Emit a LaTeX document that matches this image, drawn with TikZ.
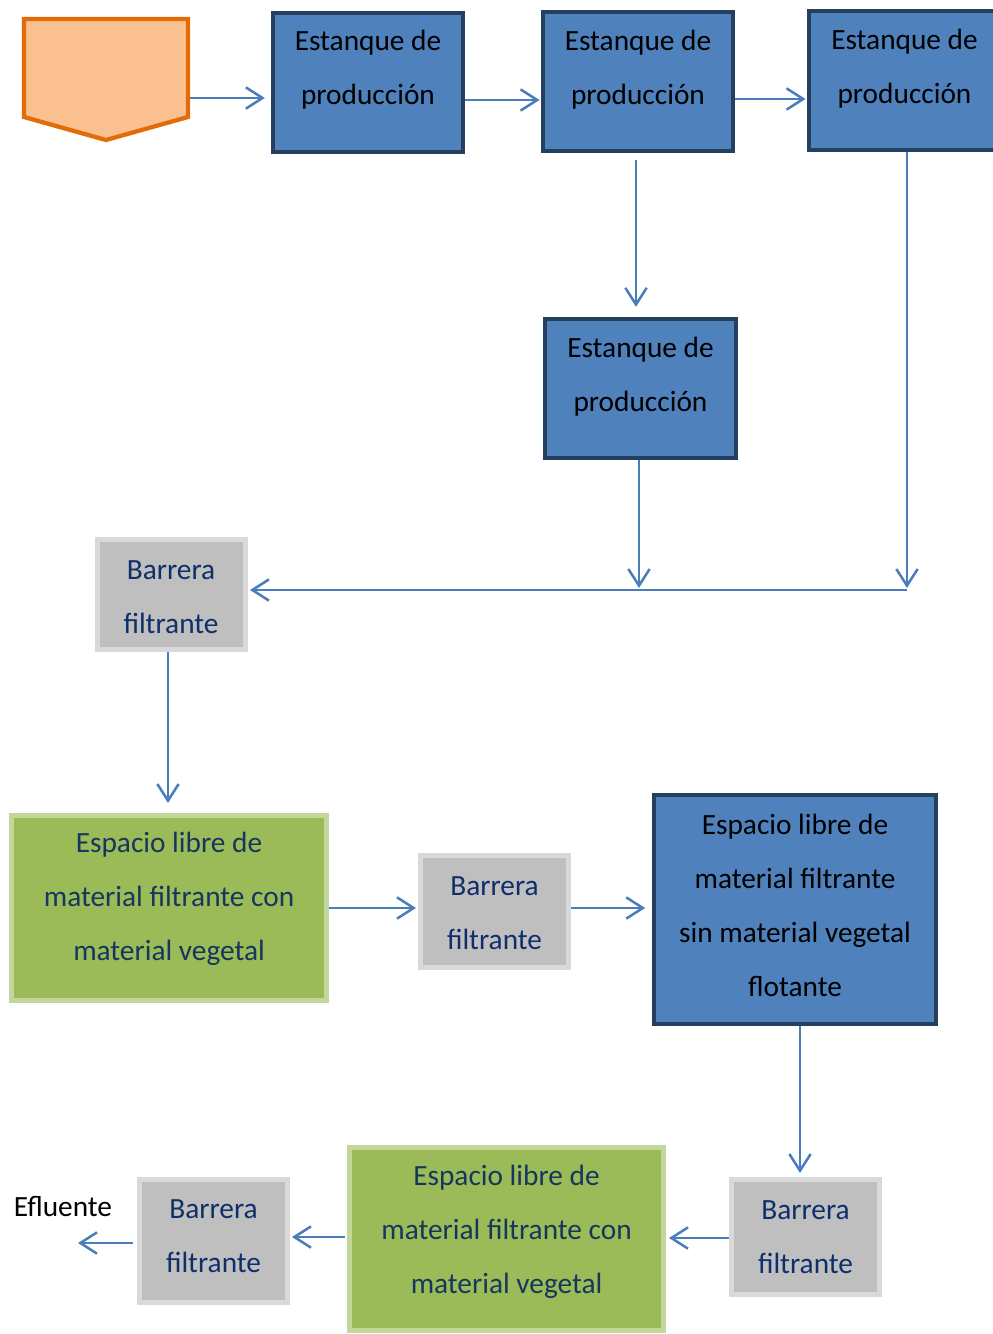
\documentclass[tikz,border=0pt]{standalone}
\usepackage{fontspec}
\setmainfont{Carlito}
\usetikzlibrary{arrows.meta}
\definecolor{pondfill}{HTML}{4F81BD}
\definecolor{pondedge}{HTML}{243F60}
\definecolor{barfill}{HTML}{BFBFBF}
\definecolor{baredge}{HTML}{D9D9D9}
\definecolor{plantfill}{HTML}{9BBB59}
\definecolor{plantedge}{HTML}{C3D69B}
\definecolor{srcfill}{HTML}{FAC090}
\definecolor{srcedge}{HTML}{E36C09}
\definecolor{flow}{HTML}{4A7EBB}
\definecolor{bartext}{HTML}{0F2F6B}
\definecolor{planttext}{HTML}{17365D}
\begin{document}
\begin{tikzpicture}[x=0.75pt,y=-0.75pt,
  pond/.style={draw=pondedge,fill=pondfill,line width=3.2pt,outer sep=1.6pt,inner sep=0pt},
  barrier/.style={draw=baredge,fill=barfill,line width=3.75pt,outer sep=1.875pt,inner sep=0pt},
  plant/.style={draw=plantedge,fill=plantfill,line width=3.75pt,outer sep=1.875pt,inner sep=0pt},
  txt/.style={align=center,inner sep=0pt,font=\fontsize{22}{40.5}\selectfont},
  arr/.style={draw=flow,line width=1.9pt,-{Straight Barb[length=12.5pt,width=16pt,line width=1.9pt]}},
  flowline/.style={draw=flow,line width=1.9pt}]
\useasboundingbox (0,0) rectangle (992,1334);

% source (incoming water)
\path[fill=srcfill,draw=srcedge,line width=3.2pt,line join=miter]
  (24,19) -- (188,19) -- (188,117) -- (106,140) -- (24,117) -- cycle;
\coordinate (src) at (190,98);

% production ponds
\node[pond,minimum width=190*0.75pt,minimum height=139*0.75pt] (b1) at (368,82.5) {};
\node[pond,minimum width=190*0.75pt,minimum height=139*0.75pt] (b2) at (638,81.5) {};
\node[pond,minimum width=191*0.75pt,minimum height=139*0.75pt] (b3) at (904.5,80.5) {};
\node[pond,minimum width=191*0.75pt,minimum height=139*0.75pt] (b4) at (640.5,388.5) {};
\node[pond,minimum width=282*0.75pt,minimum height=229*0.75pt] (b5) at (795,909.5) {};

% filter barriers
\node[barrier,minimum width=148*0.75pt,minimum height=110*0.75pt] (g1) at (171.5,594.5) {};
\node[barrier,minimum width=148*0.75pt,minimum height=112*0.75pt] (g2) at (494.5,911.5) {};
\node[barrier,minimum width=148*0.75pt,minimum height=115*0.75pt] (g3) at (805.5,1237) {};
\node[barrier,minimum width=148*0.75pt,minimum height=123*0.75pt] (g4) at (213.5,1241) {};

% planted zones
\node[plant,minimum width=315*0.75pt,minimum height=185*0.75pt] (p1) at (169,908) {};
\node[plant,minimum width=314*0.75pt,minimum height=183*0.75pt] (p2) at (506.5,1239) {};

% labels
\node[txt] (tb1) at (368,69.5) {Estanque de\\producción};
\node[txt] (tb2) at (638,69.5) {Estanque de\\producción};
\node[txt] (tb3) at (904.5,68.5) {Estanque de\\producción};
\node[txt] (tb4) at (640.5,376.5) {Estanque de\\producción};
\node[txt] (tb5) at (795,905.5) {Espacio libre de\\material filtrante\\sin material vegetal\\flotante};
\node[txt,text=bartext] (tg1) at (171,597) {Barrera\\filtrante};
\node[txt,text=bartext] (tg2) at (494.5,913) {Barrera\\filtrante};
\node[txt,text=bartext] (tg3) at (805.5,1237) {Barrera\\filtrante};
\node[txt,text=bartext] (tg4) at (213.5,1236.5) {Barrera\\filtrante};
\node[txt,text=planttext] (tp1) at (169,899) {Espacio libre de\\material filtrante con\\material vegetal};
\node[txt,text=planttext] (tp2) at (506.5,1232) {Espacio libre de\\material filtrante con\\material vegetal};
\node[txt] (eff) at (63,1206) {Efluente};

% flow connections
\coordinate (j1) at (639,590);
\coordinate (j2) at (907,590);
\coordinate (out) at (78,1243);

\draw[arr,shorten >=4.5pt] (src) -- (src -| b1.west);
\draw[arr,shorten >=1pt] (b1.east |- 0,100) -- (b2.west |- 0,100);
\draw[arr,shorten >=1pt] (b2.east |- 0,99) -- (b3.west |- 0,99);
\draw[arr,shorten <=5pt,shorten >=7.5pt] (b2.south -| 636,0) -- (b4.north -| 636,0);
\draw[arr,shorten >=1.5pt] (b4.south -| j1) -- (j1);
\draw[arr,shorten >=1.5pt] (b3.south -| j2) -- (j2);
\draw[arr,shorten >=1.5pt] (j2) -- (g1.east |- j2);
\draw[arr,shorten >=7.5pt] (g1.south -| 168,0) -- (p1.north -| 168,0);
\draw[arr,shorten >=1.5pt] (p1.east |- 0,908) -- (g2.west |- 0,908);
\draw[arr,shorten >=5pt] (g2.east |- 0,908) -- (b5.west |- 0,908);
\draw[arr,shorten >=3pt] (b5.south -| 800,0) -- (g3.north -| 800,0);
\draw[arr,shorten >=2.25pt] (g3.west |- 0,1238) -- (p2.east |- 0,1238);
\draw[arr,shorten <=1.5pt,shorten >=1.5pt] (p2.west |- 0,1237) -- (g4.east |- 0,1237);
\draw[arr,shorten <=3pt] (g4.west |- out) -- (out);
\end{tikzpicture}
\end{document}
